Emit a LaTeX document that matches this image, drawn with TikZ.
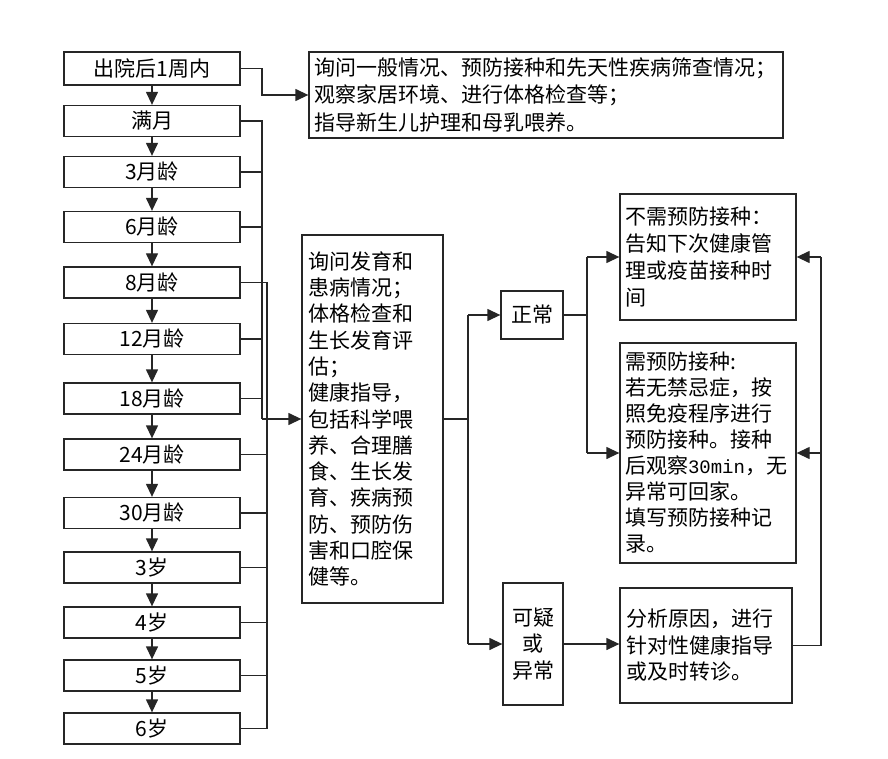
\documentclass[tikz,border=0pt]{standalone}
\usepackage{fontspec}
\setmainfont{Noto Sans CJK SC}
\newfontfamily\monofont{Liberation Mono}
\usetikzlibrary{arrows.meta}
\begin{document}
\begin{tikzpicture}[x=1pt,y=-1pt,
  box/.style={draw=black!85, line width=1.3pt, inner sep=0pt, font=\fontsize{21}{26.5}\selectfont},
  agebox/.style={box, minimum width=176pt, minimum height=31pt},
  txtbox/.style={box, align=left, inner xsep=6pt, inner ysep=0pt},
  line/.style={draw=black!85, line width=1.3pt},
  arr/.style={line, -{Triangle[length=13pt,width=12pt]}},
]
\useasboundingbox (0,0) rectangle (888,759);

% left column
\node[agebox, minimum height=33pt] (a1) at (152,68.5) {出院后1周内};
\node[agebox] (a2) at (152,121) {满月};
\node[agebox] (a3) at (152,172) {3月龄};
\node[agebox] (a4) at (152,227) {6月龄};
\node[agebox] (a5) at (152,282.5) {8月龄};
\node[agebox] (a6) at (152,339) {12月龄};
\node[agebox] (a7) at (152,398.5) {18月龄};
\node[agebox] (a8) at (152,454.5) {24月龄};
\node[agebox] (a9) at (152,513) {30月龄};
\node[agebox] (a10) at (152,567.5) {3岁};
\node[agebox] (a11) at (152,622.5) {4岁};
\node[agebox] (a12) at (152,675.5) {5岁};
\node[agebox] (a13) at (152,728.5) {6岁};

\foreach \p/\q in {a1/a2,a2/a3,a3/a4,a4/a5,a5/a6,a6/a7,a7/a8,a8/a9,a9/a10,a10/a11,a11/a12,a12/a13}
  \draw[arr] (\p.south) -- (\q.north);

% text boxes
\node[txtbox, inner xsep=5pt, text width=464pt, minimum height=86pt, font=\fontsize{21}{27.5}\selectfont] (info) at (546,95)
  {询问一般情况、预防接种和先天性疾病筛查情况；\\观察家居环境、进行体格检查等；\\指导新生儿护理和母乳喂养。};

\node[txtbox, text width=129pt, minimum height=368pt, font=\fontsize{21}{26.3}\selectfont] (center) at (372.5,419)
  {询问发育和\\患病情况；\\体格检查和\\生长发育评\\估；\\健康指导，\\包括科学喂\\养、合理膳\\食、生长发\\育、疾病预\\防、预防伤\\害和口腔保\\健等。};

\node[box, minimum width=62pt, minimum height=48pt] (normal) at (532,315) {正常};
\node[box, align=center, minimum width=60pt, minimum height=122pt] (abn) at (533,644) {可疑\\或\\异常};

\node[txtbox, inner xsep=5pt, text width=166pt, minimum height=126pt, font=\fontsize{21}{26.7}\selectfont] (nov) at (708,257)
  {不需预防接种：\\告知下次健康管\\理或疫苗接种时\\间};
\node[txtbox, inner xsep=5pt, text width=166pt, minimum height=220pt, font=\fontsize{21}{26}\selectfont] (vac) at (708,453)
  {需预防接种:\\若无禁忌症，按\\照免疫程序进行\\预防接种。接种\\后观察{\monofont\fontsize{19}{26}\selectfont 30min}，无\\异常可回家。\\填写预防接种记\\录。};
\node[txtbox, text width=160pt, minimum height=115pt] (ana) at (706,645.5)
  {分析原因，进行\\针对性健康指导\\或及时转诊。};

% buses
\coordinate (busA) at (262,0);
\coordinate (busB) at (267,0);
\coordinate (busC) at (468,0);
\coordinate (busD) at (587,0);
\coordinate (busE) at (821,0);

\draw[arr] (a1.east) -- (a1.east -| busA) |- (info.west);

\draw[line] (a2.east) -- (a2.east -| busA) -- (center.west -| busA);
\foreach \n in {a3,a4,a6,a7}
  \draw[line] (\n.east) -- (\n.east -| busA);
\draw[arr] (center.west -| busA) -- (center.west);

\draw[line] (a5.east) -- (a5.east -| busB) -- (a13.east -| busB) -- (a13.east);
\foreach \n in {a8,a9,a10,a11,a12}
  \draw[line] (\n.east) -- (\n.east -| busB);

\draw[line] (center.east) -- (center.east -| busC);
\draw[line] (normal.west -| busC) -- (abn.west -| busC);
\draw[arr] (normal.west -| busC) -- (normal.west);
\draw[arr] (abn.west -| busC) -- (abn.west);

\draw[line] (normal.east) -- (normal.east -| busD);
\draw[line] (nov.west -| busD) -- (vac.west -| busD);
\draw[arr] (nov.west -| busD) -- (nov.west);
\draw[arr] (vac.west -| busD) -- (vac.west);

\draw[arr] (abn.east) -- (abn.east -| ana.west);

\draw[line] (ana.east) -- (ana.east -| busE) -- (nov.east -| busE);
\draw[arr] (nov.east -| busE) -- (nov.east);
\draw[arr] (vac.east -| busE) -- (vac.east);
\end{tikzpicture}
\end{document}
